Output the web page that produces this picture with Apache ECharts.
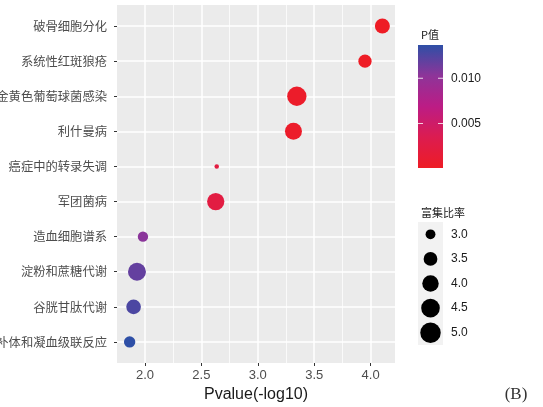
<!DOCTYPE html>
<html>
<head>
<meta charset="utf-8">
<script src="https://cdn.jsdelivr.net/npm/echarts@6/dist/echarts.min.js"></script>
<style>
html,body{margin:0;padding:0;background:#fff;}
#chart{width:543px;height:407px;}
</style>
</head>
<body>
<div id="chart"></div>
<script>
// ---- data (top to bottom) ----
const categories = ['破骨细胞分化','系统性红斑狼疮','金黄色葡萄球菌感染','利什曼病','癌症中的转录失调','军团菌病','造血细胞谱系','淀粉和蔗糖代谢','谷胱甘肽代谢','补体和凝血级联反应'];
const negLog10P = [4.104, 3.95, 3.346, 3.316, 2.636, 2.627, 1.982, 1.929, 1.899, 1.864];
const enrichRatio = [3.72, 3.43, 4.68, 4.12, 2.75, 4.19, 3.05, 4.35, 3.66, 3.16];
const xTicks = [2.0, 2.5, 3.0, 3.5, 4.0];
const xMinorTicks = [1.75, 2.25, 2.75, 3.25, 3.75];
const pTicks = [0.010, 0.005];
const pTickLabels = ['0.010', '0.005'];
const ratioTicks = [3.0, 3.5, 4.0, 4.5, 5.0];
const ratioTickLabels = ['3.0', '3.5', '4.0', '4.5', '5.0'];

// ---- scales ----
const ratioDomain = [2.75, 5.0];
const sizeRange = [4.5, 20.5];
function sizeFn(r) {
  const t = Math.max(0, (r - ratioDomain[0]) / (ratioDomain[1] - ratioDomain[0]));
  return sizeRange[0] + (sizeRange[1] - sizeRange[0]) * Math.sqrt(t);
}
const gradColors = ['#ee1c25', '#dc1c50', '#bc1c85', '#8e3499', '#2e4fa6'];

const n = categories.length;
const data = categories.map((c, i) => [negLog10P[i], n - i, enrichRatio[i], Math.pow(10, -negLog10P[i])]);
const pVals = data.map(d => d[3]);
const pMin = Math.min(...pVals), pMax = Math.max(...pVals);
const xMin = 1.752, xMax = 4.216;

// ---- legend geometry ----
const cb = {x: 418, y: 45, w: 25, h: 123};
const sl = {x: 418, y: 222, w: 25, key: 24.6};

const graphics = [];
graphics.push({type: 'text', style: {text: 'P值', x: 421, y: 35, font: '11px "Noto Sans CJK SC"', fill: '#1a1a1a', align: 'left', verticalAlign: 'middle'}});
graphics.push({type: 'rect', shape: {x: cb.x, y: cb.y, width: cb.w, height: cb.h},
  style: {fill: new echarts.graphic.LinearGradient(0, 0, 0, 1,
    gradColors.slice().reverse().map((c, i, a) => ({offset: i / (a.length - 1), color: c})))}});
pTicks.forEach((p, i) => {
  const y = cb.y + cb.h - (p - pMin) / (pMax - pMin) * cb.h;
  graphics.push({type: 'line', shape: {x1: cb.x, y1: y, x2: cb.x + 5, y2: y}, style: {stroke: 'rgba(255,255,255,0.8)', lineWidth: 1}});
  graphics.push({type: 'line', shape: {x1: cb.x + cb.w - 5, y1: y, x2: cb.x + cb.w, y2: y}, style: {stroke: 'rgba(255,255,255,0.8)', lineWidth: 1}});
  graphics.push({type: 'text', style: {text: pTickLabels[i], x: 451, y: y, font: '12px "Liberation Sans", Arial', fill: '#1a1a1a', align: 'left', verticalAlign: 'middle'}});
});
graphics.push({type: 'text', style: {text: '富集比率', x: 421, y: 213, font: '11px "Noto Sans CJK SC"', fill: '#1a1a1a', align: 'left', verticalAlign: 'middle'}});
graphics.push({type: 'rect', shape: {x: sl.x, y: sl.y, width: sl.w, height: sl.key * ratioTicks.length}, style: {fill: '#f2f2f2'}});
ratioTicks.forEach((r, i) => {
  const cy = sl.y + sl.key * (i + 0.5);
  graphics.push({type: 'circle', shape: {cx: sl.x + sl.w / 2, cy: cy, r: sizeFn(r) / 2}, style: {fill: '#000'}});
  graphics.push({type: 'text', style: {text: ratioTickLabels[i], x: 451, y: cy, font: '12px "Liberation Sans", Arial', fill: '#1a1a1a', align: 'left', verticalAlign: 'middle'}});
});
graphics.push({type: 'text', style: {text: '(B)', x: 516, y: 395, font: '17px "Liberation Serif", "DejaVu Serif"', fill: '#333', align: 'center', verticalAlign: 'middle'}});

const chart = echarts.init(document.getElementById('chart'), null, {renderer: 'canvas'});
chart.setOption({
  animation: false,
  backgroundColor: '#ffffff',
  grid: {left: 117, right: 148, top: 5, bottom: 44, show: true, backgroundColor: '#ebebeb', borderWidth: 0,
    containLabel: false, outerBoundsMode: 'none'},
  xAxis: [{
    type: 'value', min: xMin, max: xMax,
    name: 'Pvalue(-log10)', nameLocation: 'middle', nameGap: 21,
    nameTextStyle: {fontSize: 16, color: '#1a1a1a', fontFamily: '"Liberation Sans", Arial'},
    axisLine: {show: false},
    axisTick: {show: true, length: 3, lineStyle: {color: '#333', width: 1}, customValues: xTicks},
    axisLabel: {show: true, margin: 6, fontSize: 13, color: '#4d4d4d', fontFamily: '"Liberation Sans", Arial', customValues: xTicks, formatter: v => v.toFixed(1)},
    splitLine: {show: true, lineStyle: {color: '#ffffff', width: 1.5}}
  }, {
    type: 'value', min: xMin, max: xMax, position: 'bottom',
    axisLine: {show: false},
    axisTick: {show: false, customValues: xMinorTicks},
    axisLabel: {show: false, customValues: xMinorTicks},
    splitLine: {show: true, lineStyle: {color: '#ffffff', width: 0.75}}
  }],
  yAxis: {
    type: 'value', min: 0.4, max: n + 0.6,
    axisLine: {show: false},
    axisTick: {show: true, length: 3, lineStyle: {color: '#333', width: 1}, customValues: categories.map((c, i) => n - i)},
    axisLabel: {show: true, margin: 10, fontSize: 12.3, color: '#4d4d4d', fontFamily: '"Noto Sans CJK SC"',
      customValues: categories.map((c, i) => n - i), formatter: v => categories[n - Math.round(v)]},
    splitLine: {show: true, lineStyle: {color: '#ffffff', width: 1.5}}
  },
  visualMap: {show: false, type: 'continuous', dimension: 3, min: pMin, max: pMax, seriesIndex: 0, inRange: {color: gradColors}},
  series: [{
    type: 'scatter', xAxisIndex: 0, yAxisIndex: 0,
    data: data,
    symbolSize: v => sizeFn(v[2]),
    itemStyle: {opacity: 1}
  }],
  graphic: graphics
});
</script>
</body>
</html>
